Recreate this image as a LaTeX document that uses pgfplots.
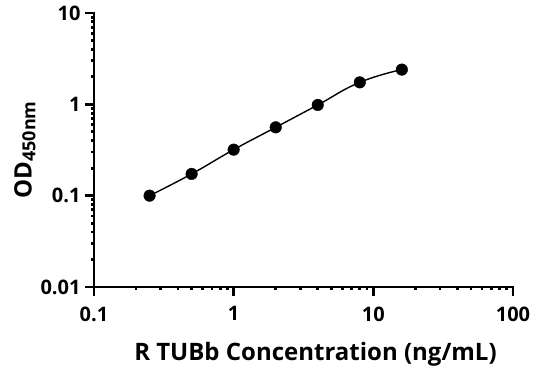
\documentclass[border=0pt]{standalone}
\usepackage{pgfplots}
\pgfplotsset{compat=1.18}
\usepackage{fontspec}
\setmainfont{Open Sans}
\begin{document}
\begin{tikzpicture}
\begin{axis}[
  name=a,
  scale only axis,
  width=419pt, height=274pt,
  xmode=log, ymode=log,
  xmin=0.1, xmax=100, ymin=0.01, ymax=10,
  axis x line*=bottom, axis y line*=left,
  axis line style={line width=2.8pt, line cap=rect},
  xtick={0.1,1,10,100}, xticklabels={0.1,1,10,100},
  ytick={0.01,0.1,1,10}, yticklabels={0.01,0.1,1,10},
  minor tick num=0, minor xtick={}, minor ytick={},
  tick style={line width=2.8pt, black},
  tick align=outside, major tick length=9pt,
  ticklabel style={font=\fontsize{20}{24}\selectfont\bfseries},
  xticklabel style={yshift=-7pt},
  yticklabel style={xshift=-1pt},
  xlabel={R TUBb Concentration (ng/mL)},
  ylabel={OD\raisebox{-0.3ex}{\fontsize{18}{20}\selectfont 450nm}},
  label style={font=\fontsize{24}{28}\selectfont\bfseries},
  xlabel style={yshift=-14pt, xshift=12pt},
  ylabel style={yshift=-2pt},
  clip=false,
]
\addplot[black, line width=1.4pt, smooth, tension=0.8] coordinates {
 (0.25,0.100) (0.5,0.173) (1,0.319) (2,0.56) (4,0.985) (8,1.74) (16,2.40)
};
\addplot[only marks, mark=*, mark size=5.8pt, black] coordinates {
 (0.25,0.100) (0.5,0.173) (1,0.319) (2,0.56) (4,0.985) (8,1.74) (16,2.40)
};
\end{axis}
\pgfresetboundingbox
\path ([xshift=-94pt,yshift=-84pt]a.south west) rectangle ([xshift=23pt,yshift=13pt]a.north east);
\end{tikzpicture}
\end{document}
